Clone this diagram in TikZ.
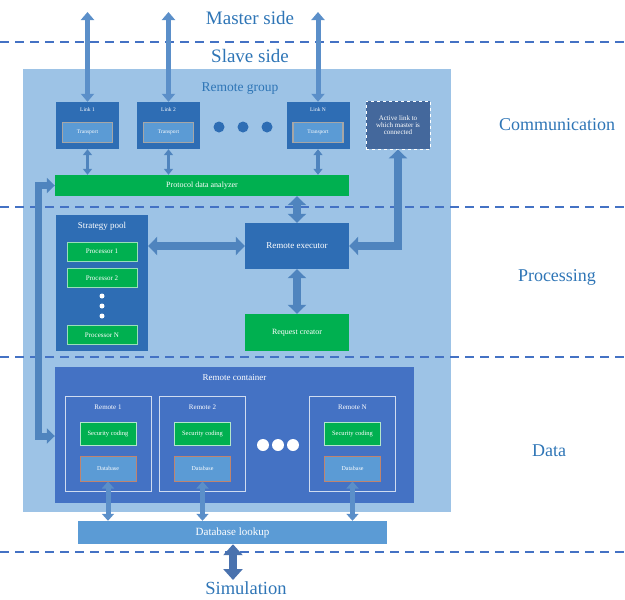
\documentclass[tikz,border=0pt]{standalone}
\usepackage{fontspec}
\setmainfont{Liberation Serif}
\usetikzlibrary{arrows.meta}
\definecolor{groupbg}{HTML}{9DC3E6}
\definecolor{dblue}{HTML}{2E6DB4}
\definecolor{actc}{HTML}{44689C}
\definecolor{lblue}{HTML}{5B9BD5}
\definecolor{gr}{HTML}{00B050}
\definecolor{contc}{HTML}{4472C4}
\definecolor{arrc}{HTML}{5B8FC9}
\definecolor{parrc}{HTML}{4F84BE}
\definecolor{dashc}{HTML}{4472C4}
\definecolor{txtc}{HTML}{2E75B6}
\definecolor{dbbord}{HTML}{C0846F}
\definecolor{simc}{HTML}{4A72AE}
\newcommand{\fsz}[1]{\fontsize{#1}{#1}\selectfont}
\tikzset{
  box/.style={draw=none, inner sep=0pt, align=center, text=white},
  darkbox/.style={box, fill=dblue},
  greenbox/.style={box, fill=gr},
  transbox/.style={box, fill=lblue, draw=gray!70, line width=1.2pt, minimum width=50pt, minimum height=20pt, font=\fsz{5.5}},
  dbbox/.style={box, fill=lblue, draw=dbbord, line width=1pt, minimum width=56pt, minimum height=25pt, font=\fsz{6}},
  scbox/.style={box, fill=gr, draw=white!70!gr, line width=0.4pt, minimum width=56pt, minimum height=23pt, font=\fsz{6.5}},
  procbox/.style={box, fill=gr, draw=white!60!gr, line width=0.5pt, minimum width=70pt, minimum height=19pt, font=\fsz{7}},
  remotebox/.style={box, draw=white!75!contc, line width=0.6pt, minimum width=86pt, minimum height=95pt},
  linkbox/.style={darkbox, minimum width=63pt, minimum height=47pt},
  wlabel/.style={inner sep=0pt, text=white},
  sidelabel/.style={inner sep=0pt, text=txtc, font=\fsz{18}},
  dashline/.style={draw=dashc, line width=1.3pt, dash pattern=on 9pt off 6pt},
  barrow/.style={draw=arrc, line width=5pt, line join=miter, {Triangle[width=13pt,length=8pt]}-{Triangle[width=13pt,length=8pt]}},
  larrow/.style={draw=parrc, line width=7pt, line join=miter, {Triangle[width=15pt,length=8pt]}-{Triangle[width=15pt,length=8pt]}},
  parrow/.style={draw=parrc, line width=8pt, line join=miter, {Triangle[width=18pt,length=9pt]}-{Triangle[width=18pt,length=9pt]}},
  sarrow/.style={draw=parrc, line width=3.5pt, {Triangle[width=9pt,length=6pt]}-{Triangle[width=9pt,length=6pt]}},
  darrow/.style={draw=arrc, line width=5pt, {Triangle[width=12pt,length=7pt]}-{Triangle[width=12pt,length=7pt]}},
  dot/.style={circle, inner sep=0pt, minimum size=#1},
}
\begin{document}
\begin{tikzpicture}[x=1pt,y=-1pt]
\useasboundingbox (0,0) rectangle (625,600);
% background group
\node[box, fill=groupbg, minimum width=428pt, minimum height=443pt] (grp) at (237,290.5) {};
% dashed separators
\draw[dashline] (0,42) -- (625,42);
\draw[dashline] (0,207) -- (625,207);
\draw[dashline] (0,357) -- (625,357);
\draw[dashline] (0,552) -- (625,552);
% titles
\node[inner sep=0pt, text=txtc, font=\fsz{19}] (master) at (250,18) {Master side};
\node[inner sep=0pt, text=txtc, font=\fsz{19}] (slave) at (250,56) {Slave side};
\node[inner sep=0pt, text=txtc, font=\fsz{13.5}] (grpt) at (240,89) {Remote group};
\node[sidelabel] (comm) at (557,125) {Communication};
\node[sidelabel] (proc) at (557,277) {Processing};
\node[sidelabel] (data) at (549,451) {Data};
\node[inner sep=0pt, text=txtc, font=\fsz{18.5}] (sim) at (246,588.5) {Simulation};
% links
\node[linkbox] (l1) at (87.5,125.5) {};
\node[linkbox] (l2) at (168.5,125.5) {};
\node[linkbox] (lN) at (318,125.5) {};
\node[wlabel, font=\fsz{5.5}] (l1t) at (87.5,110) {Link 1};
\node[wlabel, font=\fsz{5.5}] (l2t) at (168.5,110) {Link 2};
\node[wlabel, font=\fsz{5.5}] (lNt) at (318,110) {Link N};
\node[transbox] (t1) at (87.5,132.5) {Transport};
\node[transbox] (t2) at (168.5,132.5) {Transport};
\node[transbox] (tN) at (318,132.5) {Transport};
\node[dot=11pt, fill=dblue] (ld1) at (219,127) {};
\node[dot=11pt, fill=dblue] (ld2) at (243,127) {};
\node[dot=11pt, fill=dblue] (ld3) at (267,127) {};
\node[box, fill=actc, draw=white, dashed, line width=0.9pt, minimum width=64pt, minimum height=48pt, font=\fsz{7}] (act) at (398,125) {Active link to\\which master is\\connected};
% protocol data analyzer
\node[greenbox, minimum width=294pt, minimum height=21pt, font=\fsz{8}] (pda) at (202,185.5) {Protocol data analyzer};
% strategy pool
\node[darkbox, minimum width=92pt, minimum height=136pt] (sp) at (102,283) {};
\node[wlabel, font=\fsz{9}] (spt) at (102,226) {Strategy pool};
\node[procbox] (p1) at (102,251.5) {Processor 1};
\node[procbox] (p2) at (102,278) {Processor 2};
\node[procbox] (pN) at (102,335) {Processor N};
\node[dot=5pt, fill=white] (pd1) at (102,296) {};
\node[dot=5pt, fill=white] (pd2) at (102,306) {};
\node[dot=5pt, fill=white] (pd3) at (102,316) {};
% executor / request creator
\node[darkbox, minimum width=104pt, minimum height=46pt, font=\fsz{9}] (ex) at (297,246) {Remote executor};
\node[greenbox, minimum width=104pt, minimum height=37pt, font=\fsz{8}] (rq) at (297,332.5) {Request creator};
% remote container
\node[box, fill=contc, minimum width=359pt, minimum height=136pt] (rc) at (234.5,435) {};
\node[wlabel, font=\fsz{9}] (rct) at (234.5,378) {Remote container};
\node[remotebox] (r1) at (108,443.5) {};
\node[remotebox] (r2) at (202.5,443.5) {};
\node[remotebox] (rN) at (352.5,443.5) {};
\node[wlabel, font=\fsz{7}] (r1t) at (108,407) {Remote 1};
\node[wlabel, font=\fsz{7}] (r2t) at (202.5,407) {Remote 2};
\node[wlabel, font=\fsz{7}] (rNt) at (352.5,407) {Remote N};
\node[scbox] (s1) at (108,433.5) {Security coding};
\node[scbox] (s2) at (202.5,433.5) {Security coding};
\node[scbox] (sN) at (352.5,433.5) {Security coding};
\node[dbbox] (d1) at (108,468.5) {Database};
\node[dbbox] (d2) at (202.5,468.5) {Database};
\node[dbbox] (dN) at (352.5,468.5) {Database};
\node[dot=12pt, fill=white] (rd1) at (263,445) {};
\node[dot=12pt, fill=white] (rd2) at (278,445) {};
\node[dot=12pt, fill=white] (rd3) at (293,445) {};
% database lookup
\node[box, fill=lblue, minimum width=309pt, minimum height=23pt, font=\fsz{11}] (lk) at (232.5,532.5) {Database lookup};
% coordinates
\coordinate (m1) at (87.5,12);
\coordinate (m2) at (168.5,12);
\coordinate (mN) at (318,12);
\coordinate (lx1) at (38,185.5);
\coordinate (lx2) at (38,436);
\coordinate (simend) at (233,580);
% arrows
\draw[barrow] (m1) -- (l1.north);
\draw[barrow] (m2) -- (l2.north);
\draw[barrow] (mN) -- (lN.north);
\draw[sarrow] (l1.south) -- (l1.south |- pda.north);
\draw[sarrow] (l2.south) -- (l2.south |- pda.north);
\draw[sarrow] (lN.south) -- (lN.south |- pda.north);
\draw[larrow] (pda.west) -- (lx1) -- (lx2) -- (lx2 -| rc.west);
\draw[parrow] (ex.north |- pda.south) -- (ex.north);
\draw[parrow] (act.south) |- (ex.east);
\draw[parrow] (sp.east |- ex.west) -- (ex.west);
\draw[parrow] (ex.south) -- (rq.north);
\draw[darrow] (d1.south) -- (d1.south |- lk.north);
\draw[darrow] (d2.south) -- (d2.south |- lk.north);
\draw[darrow] (dN.south) -- (dN.south |- lk.north);
\draw[draw=simc, line width=8pt, {Triangle[width=19pt,length=11pt]}-{Triangle[width=19pt,length=11pt]}] (lk.south -| simend) -- (simend);
\end{tikzpicture}
\end{document}
